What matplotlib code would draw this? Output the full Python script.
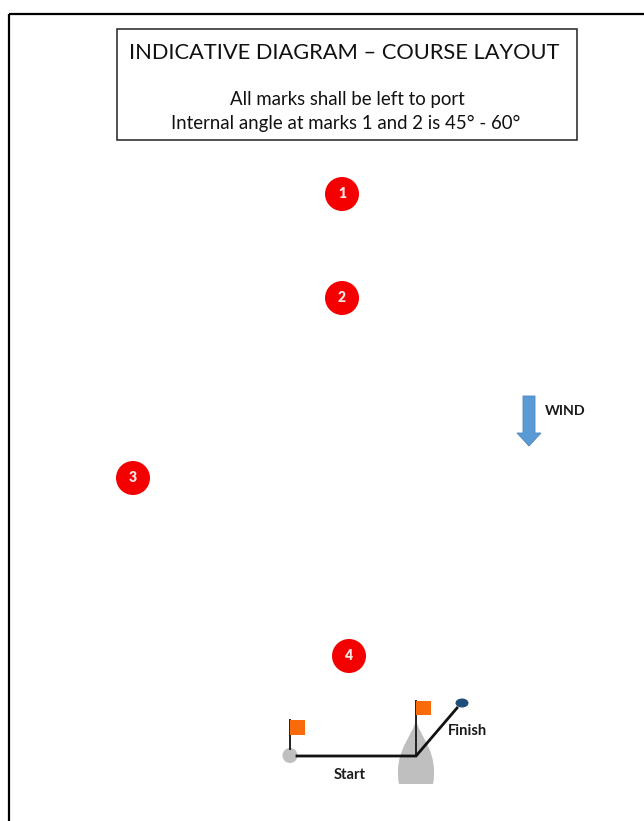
import matplotlib
matplotlib.use("Agg")
import matplotlib.pyplot as plt
from matplotlib.patches import Circle, Ellipse, PathPatch, Polygon, Rectangle
from matplotlib.path import Path

plt.rcParams['font.family'] = ['Lato', 'DejaVu Sans']

# mark numbers and where they sit, in picture pixels
mark_labels = ['1', '2', '3', '4']
mark_x = [342, 342, 133, 349]
mark_y = [194, 298, 478, 656]

title = 'INDICATIVE DIAGRAM – COURSE LAYOUT'
line1 = 'All marks shall be left to port'
line2 = 'Internal angle at marks 1 and 2 is 45° - 60°'

flag_x = [290, 416]
flag_top = [720, 701]
flag_h = [15, 14]

fig = plt.figure(figsize=(6.44, 8.21), dpi=100)
ax = fig.add_axes([0, 0, 1, 1])
ax.set_xlim(0, 644)
ax.set_ylim(821, 0)
ax.axis('off')

# outer frame runs off the right and bottom edges
ax.plot([9, 9], [840, 14.5], color='black', lw=1.6, solid_capstyle='butt')
ax.plot([9, 660], [14.5, 14.5], color='black', lw=1.6, solid_capstyle='butt')

# title box
ax.add_patch(Rectangle((117, 29), 460, 111, fc='white', ec='#222222', lw=1.1))
ax.text(344.5, 53, title, ha='center', va='center', fontsize=15.75, color='#111111')
ax.text(347, 99, line1, ha='center', va='center', fontsize=13.4, color='#111111')
ax.text(346, 123, line2, ha='center', va='center', fontsize=13.4, color='#111111')

# red marks
for lab, x, y in zip(mark_labels, mark_x, mark_y):
    ax.add_patch(Circle((x, y), 17, fc='#f40000', ec='none'))
    ax.text(x, y, lab, ha='center', va='center', fontsize=10,
            fontweight='heavy', color='#fbe4e4')

# wind arrow
ax.add_patch(Polygon([(523, 396), (535, 396), (535, 433), (541, 433), (529, 446),
                      (517, 433), (523, 433)], closed=True, fc='#5b9bd5',
                     ec='#4a86bd', lw=0.6))
ax.text(545, 411, 'WIND', ha='left', va='center', fontsize=10.2, fontweight='bold',
        color='#1a1a1a')

# committee boat, a teardrop with a cut off stern
boat = Path([(416, 720),
             (413, 734), (398, 748), (398, 771),
             (398, 776), (398, 780), (399, 784),
             (433, 784),
             (434, 780), (434, 776), (434, 771),
             (434, 748), (419, 734), (416, 720)],
            [Path.MOVETO,
             Path.CURVE4, Path.CURVE4, Path.CURVE4,
             Path.CURVE4, Path.CURVE4, Path.CURVE4,
             Path.LINETO,
             Path.CURVE4, Path.CURVE4, Path.CURVE4,
             Path.CURVE4, Path.CURVE4, Path.CURVE4])
ax.add_patch(PathPatch(boat, fc='#bfbfbf', ec='none'))

# pin buoy and finish buoy
ax.add_patch(Circle((290, 755.5), 7.5, fc='#bfbfbf', ec='none', zorder=2))
ax.add_patch(Ellipse((462, 703), 13, 9, fc='#1f4e79', ec='none'))

# flags
for x, top, h in zip(flag_x, flag_top, flag_h):
    ax.plot([x, x], [top, 756 if x == 416 else 749], color='#222222', lw=1.4, zorder=3)
    ax.add_patch(Rectangle((x + 0.5, top), 14.5, h, fc='#f96b0a', ec='none', zorder=3))

# start and finish lines
ax.plot([297, 416, 457], [756, 756, 708], color='#111111', lw=2, zorder=4,
        solid_joinstyle='miter')

ax.text(350, 775, 'Start', ha='center', va='center', fontsize=10.6, fontweight='bold',
        color='#1a1a1a')
ax.text(468, 731, 'Finish', ha='center', va='center', fontsize=10.6, fontweight='bold',
        color='#1a1a1a')

fig.savefig('out.png', dpi=100)
